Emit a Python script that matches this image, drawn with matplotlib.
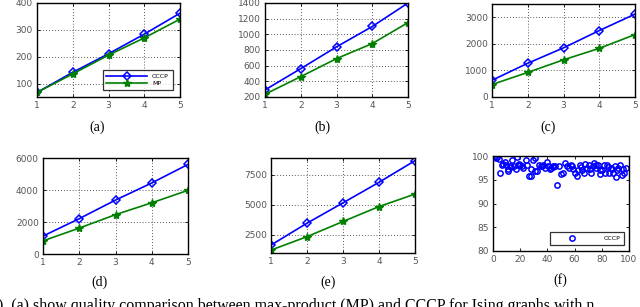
import matplotlib
matplotlib.use("Agg")
import matplotlib.pyplot as plt
import numpy as np

# ---- data ----
x_nodes = [1, 2, 3, 4, 5]

cccp_a = [67, 142, 211, 284, 362]
mp_a = [67, 136, 206, 270, 340]

cccp_b = [290, 562, 840, 1100, 1400]
mp_b = [235, 460, 690, 882, 1150]

cccp_c = [630, 1270, 1850, 2500, 3120]
mp_c = [470, 925, 1400, 1830, 2350]

cccp_d = [1120, 2210, 3370, 4440, 5600]
mp_d = [820, 1620, 2460, 3200, 3980]

cccp_e = [1660, 3480, 5170, 6880, 8680]
mp_e = [1240, 2360, 3620, 4860, 5900]

f_x = [1, 2, 3, 4.6, 5.4, 6.3, 8.8, 9.8, 10.7, 11.2, 12.7, 14.1, 15.1, 16.6,
       17.6, 18.5, 20, 21, 22.4, 23.9, 24.9, 26.3, 27.8, 28.3, 29.3, 30.7,
       31.2, 32.7, 33.7, 35.1, 36, 37.1, 38.5, 39.5, 40.5, 41.9, 42.9, 43.9,
       45.4, 47.3, 48.8, 50.2, 51.7, 53.2, 54.6, 56.1, 57.6, 59.0, 60.5,
       61.5, 62.4, 63.9, 65.4, 66.8, 67.8, 69.3, 70.7, 72.2, 73.2, 74.1,
       75.6, 77.1, 78.5, 80, 81.5, 82.4, 83.9, 85.4, 86.8, 88.3, 89.8, 90.7,
       92.2, 93.7, 94.6, 96.1, 97.6, 7.5, 13, 19, 44, 58, 64.5, 71, 76, 79,
       84.5, 87.5, 91.5, 95.5]
f_y = [99.7, 99.5, 99.7, 99.4, 96.5, 98.1, 98.7, 98.1, 97.3, 96.8, 97.8,
       99.2, 97.9, 97.3, 99.7, 98.1, 98.1, 98.0, 97.4, 99.2, 98.1, 95.8,
       97.3, 95.8, 99.2, 99.5, 96.8, 96.8, 98.1, 97.9, 98.0, 98.1, 97.4,
       98.7, 97.9, 97.3, 97.4, 97.8, 97.9, 94.0, 97.9, 96.3, 96.5, 98.5,
       97.9, 97.4, 98.1, 97.3, 96.5, 95.8, 97.1, 98.1, 97.1, 96.5, 98.3,
       97.4, 98.1, 96.5, 97.8, 98.5, 97.4, 98.1, 96.3, 97.1, 98.1, 96.5,
       98.1, 96.5, 97.4, 96.5, 97.9, 95.5, 97.4, 98.1, 96.0, 96.5, 97.4,
       98.3, 97.6, 98.4, 97.6, 97.8, 97.7, 97.2, 98.2, 97.0, 97.6, 97.2,
       97.0, 97.3]

W, H = 640, 307
fig = plt.figure(figsize=(W / 100, H / 100), dpi=100)


def box(l, r, t, b):
    return [l / W, 1 - b / H, (r - l) / W, (b - t) / H]


tick_col = '#555555'


def style(ax):
    ax.tick_params(direction='in', labelsize=6.5, length=2.5, width=0.6,
                   colors='black', labelcolor=tick_col, pad=3,
                   top=True, right=True)
    for s in ax.spines.values():
        s.set_linewidth(1.0)


def line_panel(rect, cccp, mp, ylim, yticks, label, lpos, legend=False):
    ax = fig.add_axes(box(*rect))
    ax.plot(x_nodes, cccp, '-', color='blue', lw=1.2, marker='D', ms=4.2,
            mfc='none', mew=1.1, label='CCCP')
    ax.plot(x_nodes, mp, '-', color='green', lw=1.2, marker='*', ms=6,
            mec='green', label='MP')
    ax.set_xlim(1, 5)
    ax.set_ylim(*ylim)
    ax.set_xticks(x_nodes)
    ax.set_yticks(yticks)
    ax.grid(True, linestyle=(0, (1, 2.5)), color='#222222', lw=0.6)
    style(ax)
    if legend:
        lg = ax.legend(loc='lower right', fontsize=4.5, frameon=True,
                       fancybox=False, edgecolor='black', borderpad=0.6,
                       handlelength=6.5, labelspacing=0.3,
                       bbox_to_anchor=(0.97, 0.04))
        lg.get_frame().set_linewidth(0.9)
    fig.text(lpos[0] / W, 1 - lpos[1] / H, label, ha='center', va='center',
             fontsize=10, family='Liberation Serif')
    return ax


line_panel((37, 180, 3, 97), cccp_a, mp_a, (50, 400), [100, 200, 300, 400],
           '(a)', (97, 127), legend=True)
line_panel((265, 408, 3, 97), cccp_b, mp_b, (200, 1400),
           [200, 400, 600, 800, 1000, 1200, 1400], '(b)', (322, 127))
line_panel((492, 635, 4, 97), cccp_c, mp_c, (0, 3500), [0, 1000, 2000, 3000],
           '(c)', (548, 127))
line_panel((43, 188, 158, 254), cccp_d, mp_d, (0, 6000), [0, 2000, 4000, 6000],
           '(d)', (100, 282))
line_panel((271, 415, 158, 253), cccp_e, mp_e, (1000, 8900),
           [2500, 5000, 7500], '(e)', (328, 282))

axf = fig.add_axes(box(493, 629, 156, 251))
axf.plot(f_x, f_y, 'o', color='blue', ms=3.8, mfc='none', mew=1.1,
         label='CCCP')
axf.set_xlim(0, 100)
axf.set_ylim(80, 100)
axf.set_xticks([0, 20, 40, 60, 80, 100])
axf.set_yticks([80, 85, 90, 95, 100])
style(axf)
lg = axf.legend(loc='lower right', fontsize=4.5, frameon=True, fancybox=False,
                edgecolor='black', handlelength=6, borderpad=0.6,
                bbox_to_anchor=(0.985, 0.03), handletextpad=2.0)
lg.get_frame().set_linewidth(0.9)
fig.text(560 / W, 1 - 280 / H, '(f)', ha='center', va='center', fontsize=10,
         family='Liberation Serif')

fig.text(-2 / W, 1 - 306 / H,
         '). (a) show quality comparison between max-product (MP) and CCCP '
         'for Ising graphs with n',
         ha='left', va='center', fontsize=11.5, family='Liberation Serif')

fig.savefig('out.png', dpi=100)
